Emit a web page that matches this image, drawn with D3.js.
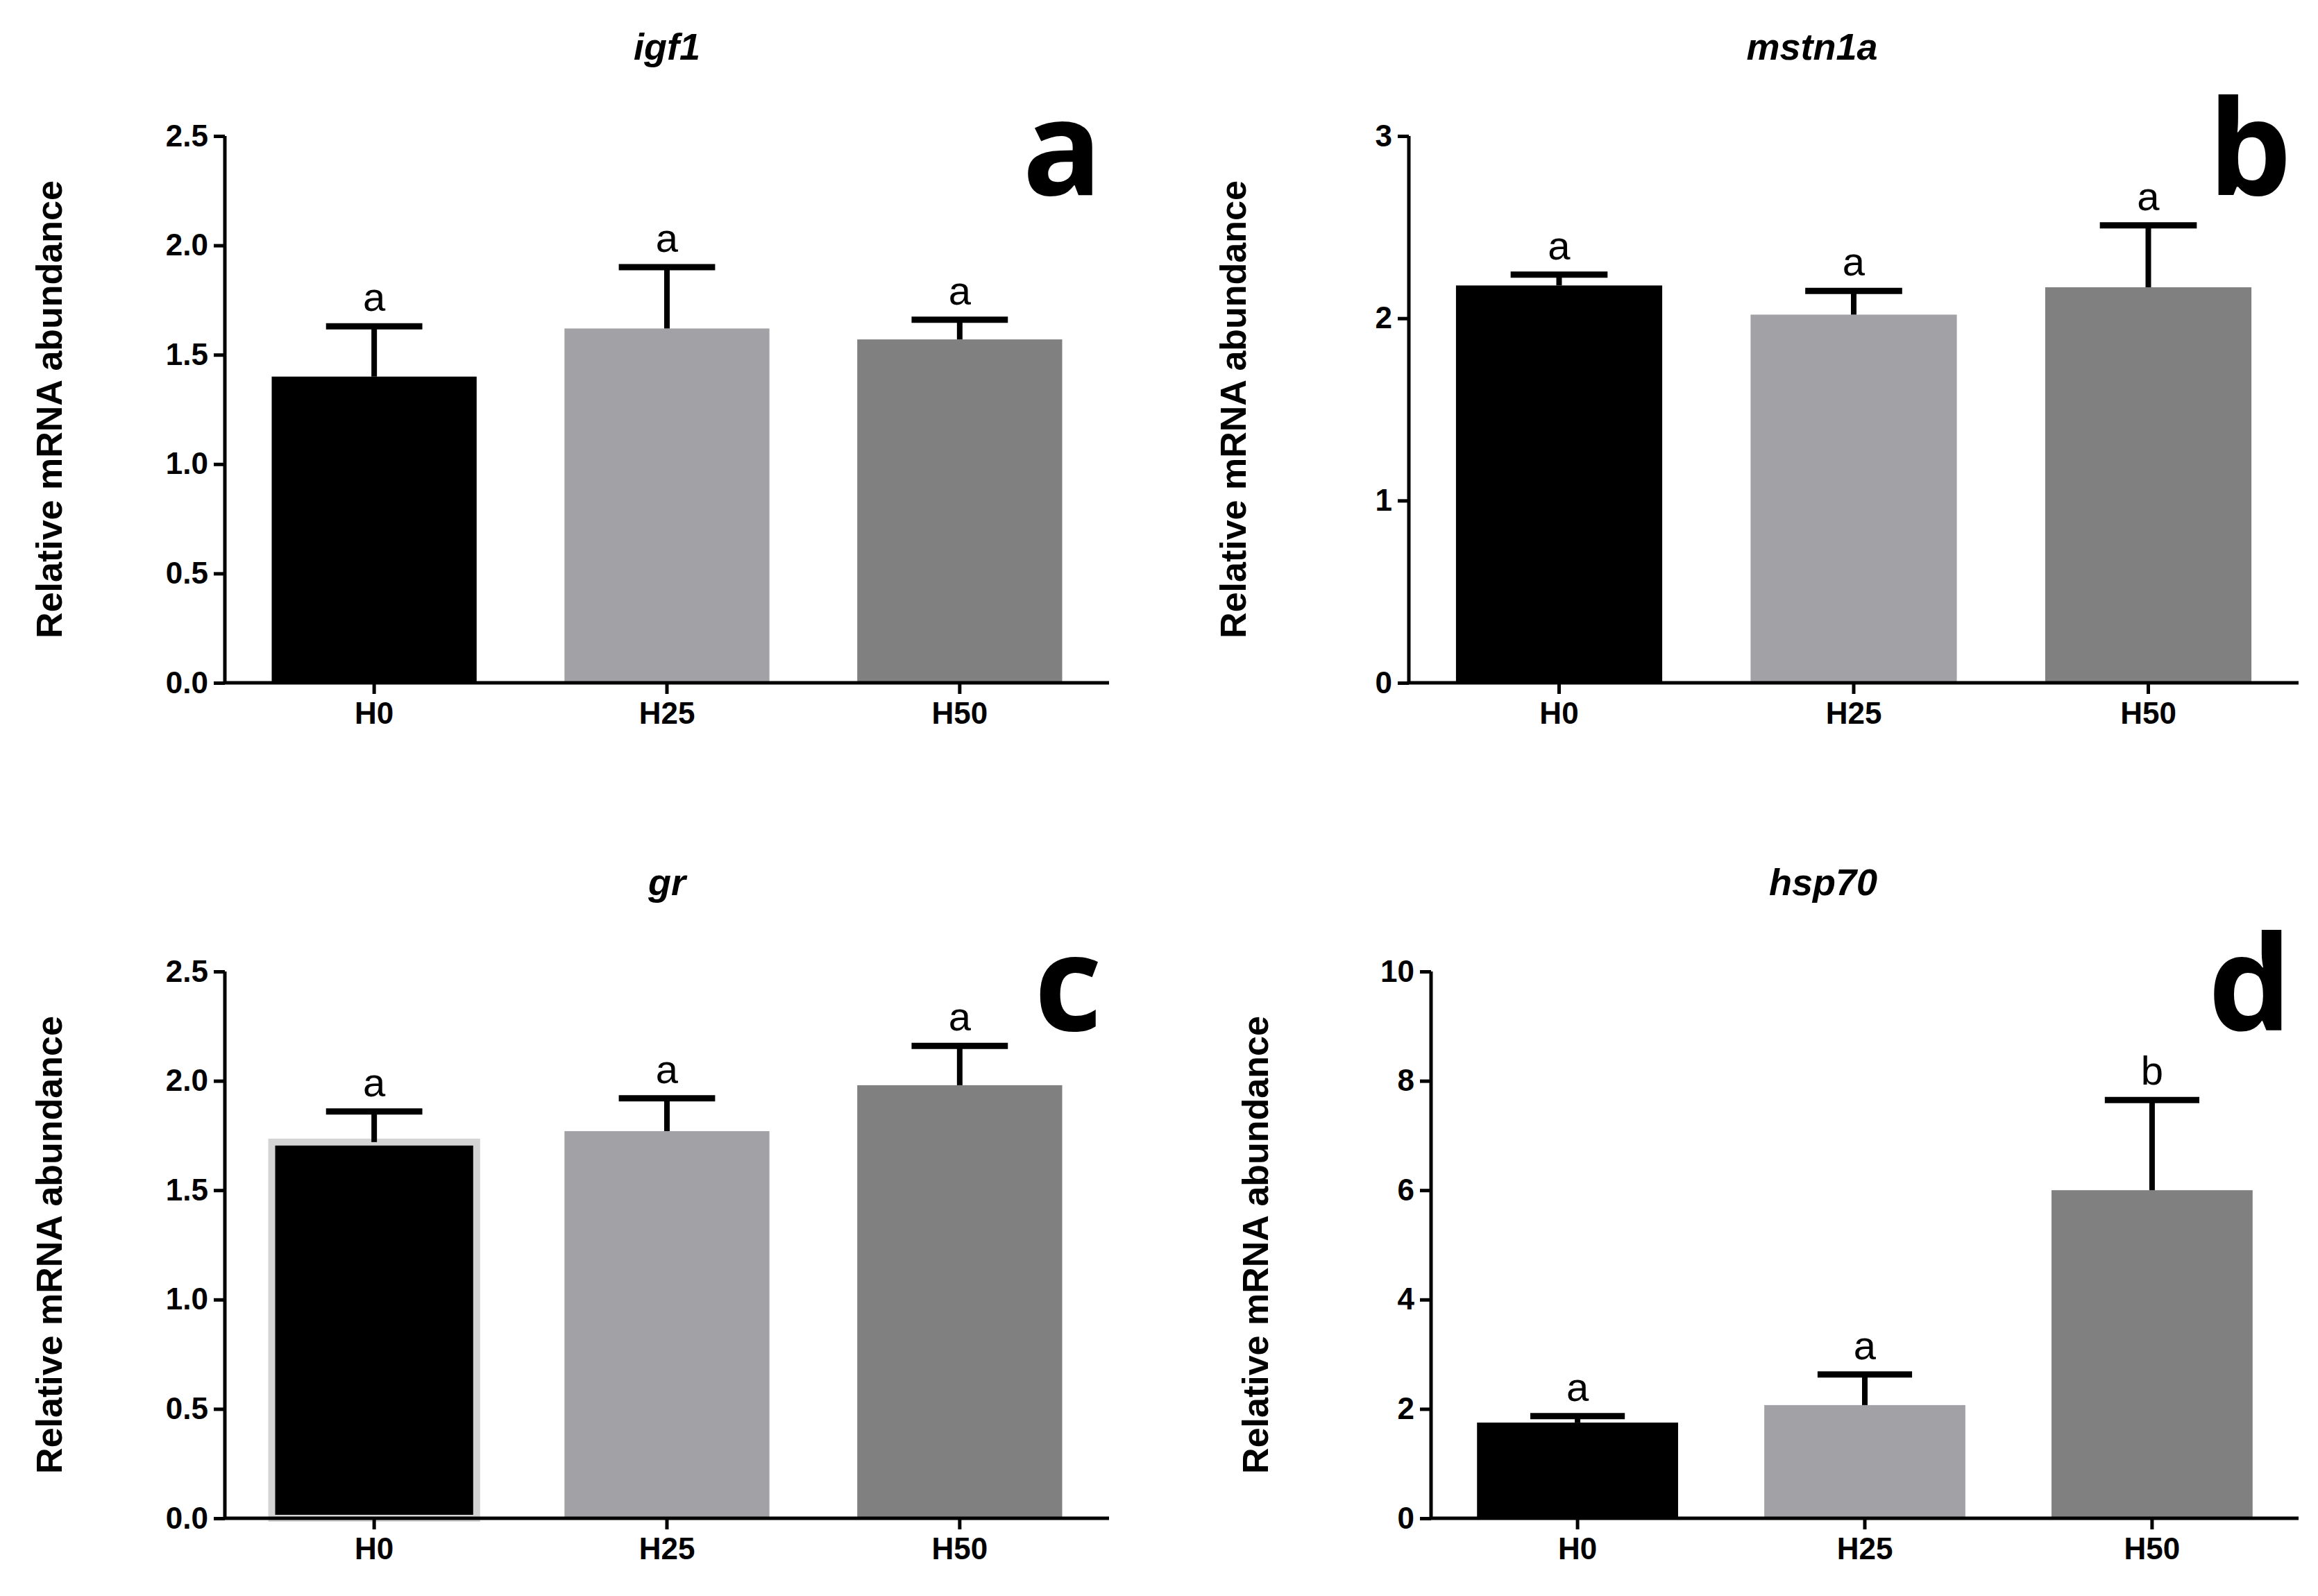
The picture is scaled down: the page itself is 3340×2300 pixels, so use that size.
<!DOCTYPE html>
<html><head><meta charset="utf-8">
<script src="https://cdn.jsdelivr.net/npm/d3@7"></script>
<style>body{margin:0;background:#fff}</style>
</head><body>
<svg id="c" width="3340" height="2300"></svg>
<script>
var groups = ["H0", "H25", "H50"];
var barColors = ["#000000", "#a2a1a6", "#808080"];
var titles = ["igf1", "mstn1a", "gr", "hsp70"];
var panelLetters = ["a", "b", "c", "d"];
var meansA = [1.40, 1.62, 1.57], errTopA = [1.63, 1.90, 1.66];
var meansB = [2.18, 2.02, 2.17], errTopB = [2.24, 2.15, 2.51];
var meansC = [1.72, 1.77, 1.98], errTopC = [1.86, 1.92, 2.16];
var meansD = [1.75, 2.07, 6.00], errTopD = [1.87, 2.63, 7.65];
var sigA = ["a","a","a"], sigB = ["a","a","a"], sigC = ["a","a","a"], sigD = ["a","a","b"];
var ticksA = [0,0.5,1,1.5,2,2.5], ticksB = [0,1,2,3], ticksC = [0,0.5,1,1.5,2,2.5], ticksD = [0,2,4,6,8,10];

var panels = [
  {x0:324, x1:1598, y0:196, y1:984, max:2.5, m:meansA, e:errTopA, s:sigA, t:ticksA, fmt:".1f"},
  {x0:2030, x1:3312, y0:196, y1:984, max:3, m:meansB, e:errTopB, s:sigB, t:ticksB, fmt:"d"},
  {x0:324, x1:1598, y0:1400, y1:2188, max:2.5, m:meansC, e:errTopC, s:sigC, t:ticksC, fmt:".1f"},
  {x0:2062, x1:3312, y0:1400, y1:2188, max:10, m:meansD, e:errTopD, s:sigD, t:ticksD, fmt:"d"}
];

var svg = d3.select("#c");
var font = "'Liberation Sans', Arial, sans-serif";

panels.forEach(function(p, i){
  var g = svg.append("g");
  var x = d3.scaleBand().domain(groups).range([p.x0, p.x1]).paddingInner(0.3).paddingOuter(0.16);
  var y = d3.scaleLinear().domain([0, p.max]).range([p.y1, p.y0]);

  // bars
  g.selectAll("rect.bar").data(p.m).enter().append("rect")
    .attr("x", function(d,j){return x(groups[j]);})
    .attr("y", function(d){return y(d);})
    .attr("width", x.bandwidth())
    .attr("height", function(d){return y(0) - y(d);})
    .attr("fill", function(d,j){return barColors[j];})
    .attr("stroke", function(d,j){return (i==2 && j==0) ? "#d4d4d4" : "none";})
    .attr("stroke-width", 10);

  // error bars (upper only)
  var cw = x.bandwidth()*0.47;
  p.e.forEach(function(e, j){
    var cx = x(groups[j]) + x.bandwidth()/2;
    g.append("line").attr("x1", cx).attr("x2", cx).attr("y1", y(p.m[j])).attr("y2", y(e))
      .attr("stroke", "#000").attr("stroke-width", 8);
    g.append("line").attr("x1", cx - cw/2).attr("x2", cx + cw/2).attr("y1", y(e)).attr("y2", y(e))
      .attr("stroke", "#000").attr("stroke-width", 9);
    g.append("text").attr("x", cx).attr("y", y(e) - 22).attr("text-anchor", "middle")
      .attr("font-family", font).attr("font-size", 58).text(p.s[j]);
  });

  // axes
  var ya = g.append("g").attr("transform", "translate(" + p.x0 + ",0)")
    .call(d3.axisLeft(y).tickValues(p.t).tickSize(16).tickPadding(8).tickFormat(d3.format(p.fmt)));
  var xa = g.append("g").attr("transform", "translate(0," + p.y1 + ")")
    .call(d3.axisBottom(x).tickSize(16).tickPadding(12));
  [ya, xa].forEach(function(a){
    a.select(".domain").attr("stroke-width", 5);
    a.selectAll(".tick line").attr("stroke-width", 5);
    a.selectAll("text").attr("font-family", font).attr("font-weight", "bold").attr("font-size", 44).attr("fill", "#000");
  });
  xa.select(".domain").attr("d", "M" + p.x0 + ",0H" + p.x1);
  ya.select(".domain").attr("d", "M0," + p.y1 + "V" + p.y0);

  // y label
  g.append("text").attr("transform", "translate(" + (p.x0 - 235) + "," + ((p.y0 + p.y1)/2) + ") rotate(-90)")
    .attr("text-anchor", "middle").attr("font-family", font).attr("font-weight", "bold")
    .attr("font-size", 52).text("Relative mRNA abundance");

  // title
  g.append("text").attr("x", (p.x0 + p.x1)/2 - (i%2 ? 60 : 0)).attr("y", p.y0 - 110).attr("text-anchor", "middle")
    .attr("font-family", font).attr("font-weight", "bold").attr("font-style", "italic")
    .attr("font-size", 54).text(titles[i]);

  // panel letter
  g.append("text").attr("x", p.x1 - 10).attr("y", p.y0 + 85).attr("text-anchor", "end")
    .attr("font-family", "'Open Sans', sans-serif").attr("font-weight", "bold")
    .attr("font-size", 190).text(panelLetters[i]);
});
</script>
</body></html>
